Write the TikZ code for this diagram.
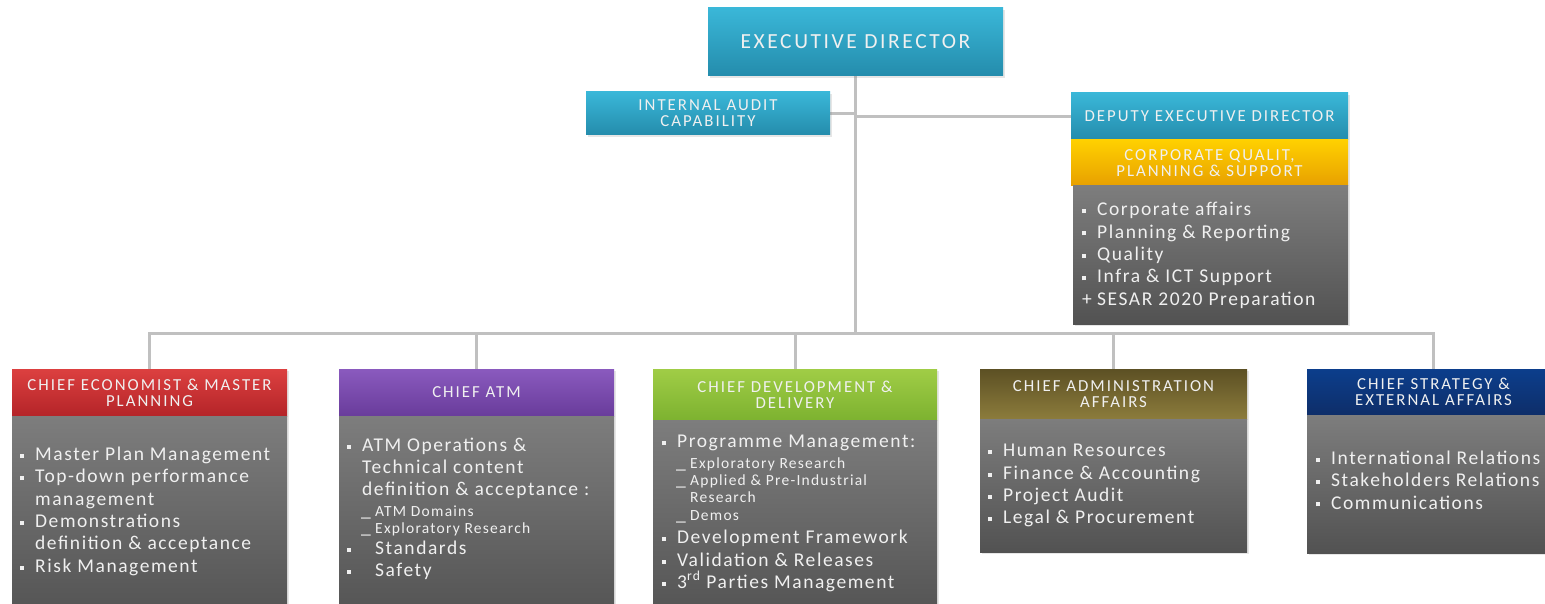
\documentclass[tikz,border=0pt]{standalone}
\usepackage{fontspec}
\setmainfont{Carlito}
\newfontfamily\headfont{Carlito}[LetterSpace=12]
\newfontfamily\itemfont{Carlito}[LetterSpace=8]
\usetikzlibrary{shadows}
\definecolor{tealtop}{RGB}{58,183,216}
\definecolor{tealbot}{RGB}{36,140,172}
\definecolor{goldtop}{RGB}{255,208,0}
\definecolor{goldbot}{RGB}{232,160,0}
\definecolor{greytop}{RGB}{125,125,125}
\definecolor{greybot}{RGB}{82,82,82}
\definecolor{redtop}{RGB}{220,64,64}
\definecolor{redbot}{RGB}{180,36,40}
\definecolor{purptop}{RGB}{138,90,190}
\definecolor{purpbot}{RGB}{105,60,155}
\definecolor{greentop}{RGB}{160,205,70}
\definecolor{greenbot}{RGB}{125,178,48}
\definecolor{olivetop}{RGB}{92,80,36}
\definecolor{olivebot}{RGB}{140,124,60}
\definecolor{navytop}{RGB}{12,62,140}
\definecolor{navybot}{RGB}{14,46,105}
\definecolor{linegrey}{RGB}{192,192,192}
\definecolor{txt}{RGB}{240,240,240}
\pgfdeclarelayer{edgelayer}
\pgfdeclarelayer{nodelayer}
\pgfsetlayers{edgelayer,nodelayer,main}
\newcommand{\bul}{\rule[2.6pt]{4pt}{4pt}}
\newcommand{\itm}[1]{\makebox[15pt][l]{\bul}#1}
\newcommand{\ind}{\hspace*{15pt}}
\newcommand{\subfont}{\fontsize{15.5}{17}\selectfont}
\newcommand{\sub}[1]{\hspace*{14pt}\makebox[14pt][l]{\_}{\subfont #1}}
\newcommand{\subind}[1]{\hspace*{28pt}{\subfont #1}}
\tikzstyle{box}=[rectangle,inner sep=0pt,align=center,text=txt,drop shadow={opacity=0.2,shadow xshift=2pt,shadow yshift=-2pt}]
\tikzstyle{head}=[box,font=\headfont\fontsize{16.8}{16}\selectfont]
\tikzstyle{tealbox}=[head,top color=tealtop,bottom color=tealbot]
\tikzstyle{goldbox}=[head,top color=goldtop,bottom color=goldbot]
\tikzstyle{redbox}=[head,top color=redtop,bottom color=redbot]
\tikzstyle{purpbox}=[head,top color=purptop,bottom color=purpbot]
\tikzstyle{greenbox}=[head,top color=greentop,bottom color=greenbot]
\tikzstyle{olivebox}=[head,top color=olivetop,bottom color=olivebot]
\tikzstyle{navybox}=[head,top color=navytop,bottom color=navybot]
\tikzstyle{bodybox}=[box,top color=greytop,bottom color=greybot]
\tikzstyle{items}=[inner sep=0pt,align=left,text=txt,anchor=north west,font=\itemfont\fontsize{19.5}{22.4}\selectfont]
\tikzstyle{conn}=[draw=linegrey,line width=3pt]

\begin{document}
\begin{tikzpicture}[x=1pt,y=-1pt]
	\useasboundingbox (0,0) rectangle (1545,604);
	\begin{pgfonlayer}{nodelayer}
		\node [style=tealbox, minimum width=295pt, minimum height=68pt, font=\headfont\fontsize{21.5}{22}\selectfont] (ed) at (855.5,42) {EXECUTIVE DIRECTOR};
		\node [style=tealbox, minimum width=244pt, minimum height=43pt] (audit) at (708,113.5) {INTERNAL AUDIT\\CAPABILITY};
		\node [style=tealbox, minimum width=277pt, minimum height=47pt] (dep) at (1209.5,116.5) {DEPUTY EXECUTIVE DIRECTOR};
		\node [style=goldbox, minimum width=277pt, minimum height=46pt] (corp) at (1209.5,163) {CORPORATE QUALIT,\\PLANNING \& SUPPORT};
		\node [style=bodybox, minimum width=275pt, minimum height=138pt] (corpbody) at (1210.5,255) {};
		\node [style=items] (corptext) at (1082,202) {\itm{Corporate affairs}\\
			\itm{Planning \& Reporting}\\
			\itm{Quality}\\
			\itm{Infra \& ICT Support}\\
			\makebox[15pt][l]{+}SESAR 2020 Preparation};

		\node [style=redbox, minimum width=275pt, minimum height=47pt] (h1) at (149.5,392.5) {CHIEF ECONOMIST \& MASTER\\PLANNING};
		\node [style=bodybox, minimum width=275pt, minimum height=208pt] (b1) at (149.5,520) {};
		\node [style=items] (t1) at (20,446.5) {\itm{Master Plan Management}\\
			\itm{Top-down performance}\\
			\ind management\\
			\itm{Demonstrations}\\
			\ind definition \& acceptance\\
			\itm{Risk Management}};

		\node [style=purpbox, minimum width=275pt, minimum height=47pt] (h2) at (476.5,392.5) {CHIEF ATM};
		\node [style=bodybox, minimum width=275pt, minimum height=208pt] (b2) at (476.5,520) {};
		\node [style=items] (t2) at (347,437.5) {\itm{ATM Operations \&}\\
			\ind Technical content\\
			\ind definition \& acceptance :\\[-2pt]
			\sub{ATM Domains}\\[-5pt]
			\sub{Exploratory Research}\\[-2pt]
			\makebox[28pt][l]{\bul}Standards\\
			\makebox[28pt][l]{\bul}Safety};

		\node [style=greenbox, minimum width=284pt, minimum height=51pt] (h3) at (795,394.5) {CHIEF DEVELOPMENT \&\\DELIVERY};
		\node [style=bodybox, minimum width=284pt, minimum height=204pt] (b3) at (795,522) {};
		\node [style=items] (t3) at (662,435) {\itm{Programme Management:}\\[-2pt]
			\sub{Exploratory Research}\\[-5pt]
			\sub{Applied \& Pre-Industrial}\\[-5pt]
			\subind{Research}\\[-5pt]
			\sub{Demos}\\[1pt]
			\itm{Development Framework}\\
			\itm{Validation \& Releases}\\
			\itm{3\textsuperscript{rd} Parties Management}};

		\node [style=olivebox, minimum width=267pt, minimum height=50pt] (h4) at (1113.5,394) {CHIEF ADMINISTRATION\\AFFAIRS};
		\node [style=bodybox, minimum width=267pt, minimum height=133pt] (b4) at (1113.5,485.5) {};
		\node [style=items] (t4) at (988,444) {\itm{Human Resources}\\
			\itm{Finance \& Accounting}\\
			\itm{Project Audit}\\
			\itm{Legal \& Procurement}};

		\node [style=navybox, minimum width=253pt, minimum height=46pt] (h5) at (1433.5,392) {CHIEF STRATEGY \&\\EXTERNAL AFFAIRS};
		\node [style=bodybox, minimum width=253pt, minimum height=138pt] (b5) at (1433.5,484) {};
		\node [style=items] (t5) at (1316,450.5) {\itm{International Relations}\\
			\itm{Stakeholders Relations}\\
			\itm{Communications}};
		\coordinate (bus) at (855.5,333);
	\end{pgfonlayer}
	\begin{pgfonlayer}{edgelayer}
		\draw [style=conn] (ed.south) to (bus);
		\draw [style=conn] (audit.east) to (audit.east -| ed.south);
		\draw [style=conn] (dep.west) to (dep.west -| ed.south);
		\draw [style=conn] (h1.north) |- (bus);
		\draw [style=conn] (h2.north) |- (bus);
		\draw [style=conn] (h3.north) |- (bus);
		\draw [style=conn] (h4.north) |- (bus);
		\draw [style=conn] (h5.north) |- (bus);
	\end{pgfonlayer}
\end{tikzpicture}
\end{document}
